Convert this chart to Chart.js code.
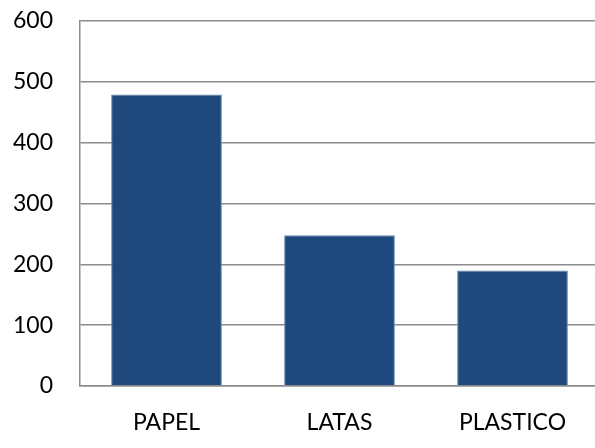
<!DOCTYPE html>
<html>
<head>
<meta charset="utf-8">
<script src="https://cdn.jsdelivr.net/npm/chart.js@4"></script>
<style>
  html, body { margin: 0; padding: 0; background: #fff; overflow: hidden; }
  #wrap { width: 600px; height: 448px; }
</style>
</head>
<body>
<div id="wrap"><canvas id="chart" width="600" height="448"></canvas></div>
<script>
const categories = ['PAPEL', 'LATAS', 'PLASTICO'];
const values = [479, 248, 190];
const yTicks = [0, 100, 200, 300, 400, 500, 600];

const ctx = document.getElementById('chart').getContext('2d');
new Chart(ctx, {
  type: 'bar',
  data: {
    labels: categories,
    datasets: [{
      data: values,
      backgroundColor: '#1F497D',
      borderColor: '#6a8ab3',
      borderWidth: 1,
      barPercentage: 0.64,
      categoryPercentage: 1
    }]
  },
  options: {
    responsive: false,
    animation: false,
    layout: { padding: { top: 21, right: 1, left: 0, bottom: 0 } },
    plugins: { legend: { display: false }, tooltip: { enabled: false } },
    scales: {
      x: {
        grid: { display: false, drawTicks: false },
        border: { color: '#8c8c8c', width: 1.5 },
        ticks: { color: '#000', font: { family: 'Lato', size: 23 }, padding: 23 },
        afterFit: (s) => { s.height = 62; s.paddingLeft = 0; s.paddingRight = 0; }
      },
      y: {
        min: 0, max: 600,
        afterBuildTicks: (s) => { s.ticks = yTicks.map(v => ({ value: v })); },
        grid: { color: '#8c8c8c', lineWidth: 1.5, drawTicks: false },
        border: { color: '#8c8c8c', width: 1.5 },
        ticks: { color: '#000', font: { family: 'Lato', size: 23 }, padding: 27 },
        afterFit: (s) => { s.width = 80; s.paddingTop = 0; s.paddingBottom = 0; }
      }
    }
  }
});
</script>
</body>
</html>
